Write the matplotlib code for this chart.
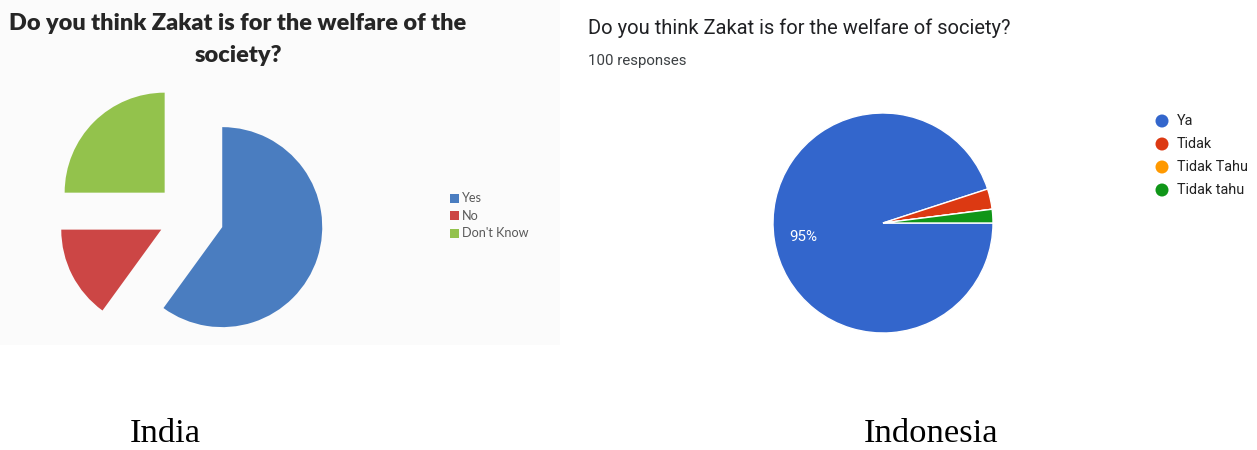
import matplotlib
matplotlib.use('Agg')
import matplotlib.pyplot as plt
from matplotlib.patches import Rectangle, Circle

W, H = 1257, 450

# ---- data ----
india_title = ["Do you think Zakat is for the welfare of the", "society?"]
india_labels = ['Yes', 'No', "Don't Know"]
india_values = [60, 15, 25]
india_colors = ['#4a7dc0', '#cc4645', '#93c24c']

indo_title = "Do you think Zakat is for the welfare of society?"
indo_subtitle = "100 responses"
indo_labels = ['Ya', 'Tidak', 'Tidak Tahu', 'Tidak tahu']
indo_values = [95, 3, 0, 2]
indo_colors = ['#3366cc', '#dc3912', '#ff9900', '#109618']

captions = ['India', 'Indonesia']

fig = plt.figure(figsize=(W / 100, H / 100), dpi=100)
ax = fig.add_axes([0, 0, 1, 1])
ax.set_axis_off()


def Y(y):
    return H - y


renderer = fig.canvas.get_renderer()


def fit(t, width):
    bb = t.get_window_extent(renderer)
    t.set_fontsize(t.get_fontsize() * width / bb.width)
    return t.get_fontsize()


# light panel background of the India image
ax.add_patch(Rectangle((0, Y(345)), 560, 345, facecolor='#fbfbfb',
                       edgecolor='none', zorder=0))

# ---- India pie ----
ax.pie(india_values, colors=india_colors, explode=[36, 30, 33],
       startangle=90, counterclock=False, center=(188, Y(216)), radius=100,
       wedgeprops=dict(linewidth=0))

# ---- Indonesia pie ----
ax.pie(indo_values, colors=indo_colors, startangle=0, counterclock=False,
       center=(883, Y(223)), radius=110,
       wedgeprops=dict(linewidth=1, edgecolor='white'))

ax.set_xlim(0, W)
ax.set_ylim(0, H)
ax.set_aspect('auto')

# ---- India title ----
t1 = ax.text(238, Y(30), india_title[0], ha='center', va='baseline',
             fontfamily='Lato', fontweight='heavy', fontsize=12, color='#262626')
fs = fit(t1, 455)
ax.text(238, Y(62), india_title[1], ha='center', va='baseline',
        fontfamily='Lato', fontweight='heavy', fontsize=fs, color='#262626')

# ---- India legend ----
leg_texts = []
for i, (lab, col) in enumerate(zip(india_labels, india_colors)):
    yc = 198 + i * 17.5
    ax.add_patch(Rectangle((450, Y(yc + 4.5)), 9, 9, facecolor=col,
                           edgecolor='none'))
    t = ax.text(462, Y(yc), lab, ha='left', va='center', fontfamily='Lato',
                fontsize=8, color='#595959')
    leg_texts.append(t)
leg_fs = fit(leg_texts[2], 67)
for tt in leg_texts:
    tt.set_fontsize(leg_fs)

# ---- Indonesia title ----
t2 = ax.text(588, Y(34), indo_title, ha='left', va='baseline',
             fontfamily='Roboto', fontsize=11, color='#202124')
fit(t2, 422)
t3 = ax.text(588, Y(65), indo_subtitle, ha='left', va='baseline',
             fontfamily='Roboto', fontsize=8, color='#3c4043')
fit(t3, 99)

# 95% label
t4 = ax.text(803, Y(237), f"{indo_values[0]}%", ha='center', va='center',
             fontfamily='Roboto', fontsize=10, color='white')
fit(t4, 28)

# ---- Indonesia legend ----
texts = []
for i, (lab, col) in enumerate(zip(indo_labels, indo_colors)):
    yc = 121 + i * 23
    ax.add_patch(Circle((1162, Y(yc)), 6.5, facecolor=col, edgecolor='none'))
    t = ax.text(1177, Y(yc), lab, ha='left', va='center', fontfamily='Roboto',
                fontsize=8, color='#222222')
    texts.append(t)
lfs = fit(texts[2], 71)
for t in texts:
    t.set_fontsize(lfs)

# ---- captions ----
c2 = ax.text(931, Y(449), captions[1], ha='center', va='bottom',
             fontfamily='Liberation Serif', fontsize=20, color='black')
cfs = fit(c2, 134)
ax.text(165, Y(449), captions[0], ha='center', va='bottom',
        fontfamily='Liberation Serif', fontsize=cfs, color='black')

fig.savefig('out.png', dpi=100)
